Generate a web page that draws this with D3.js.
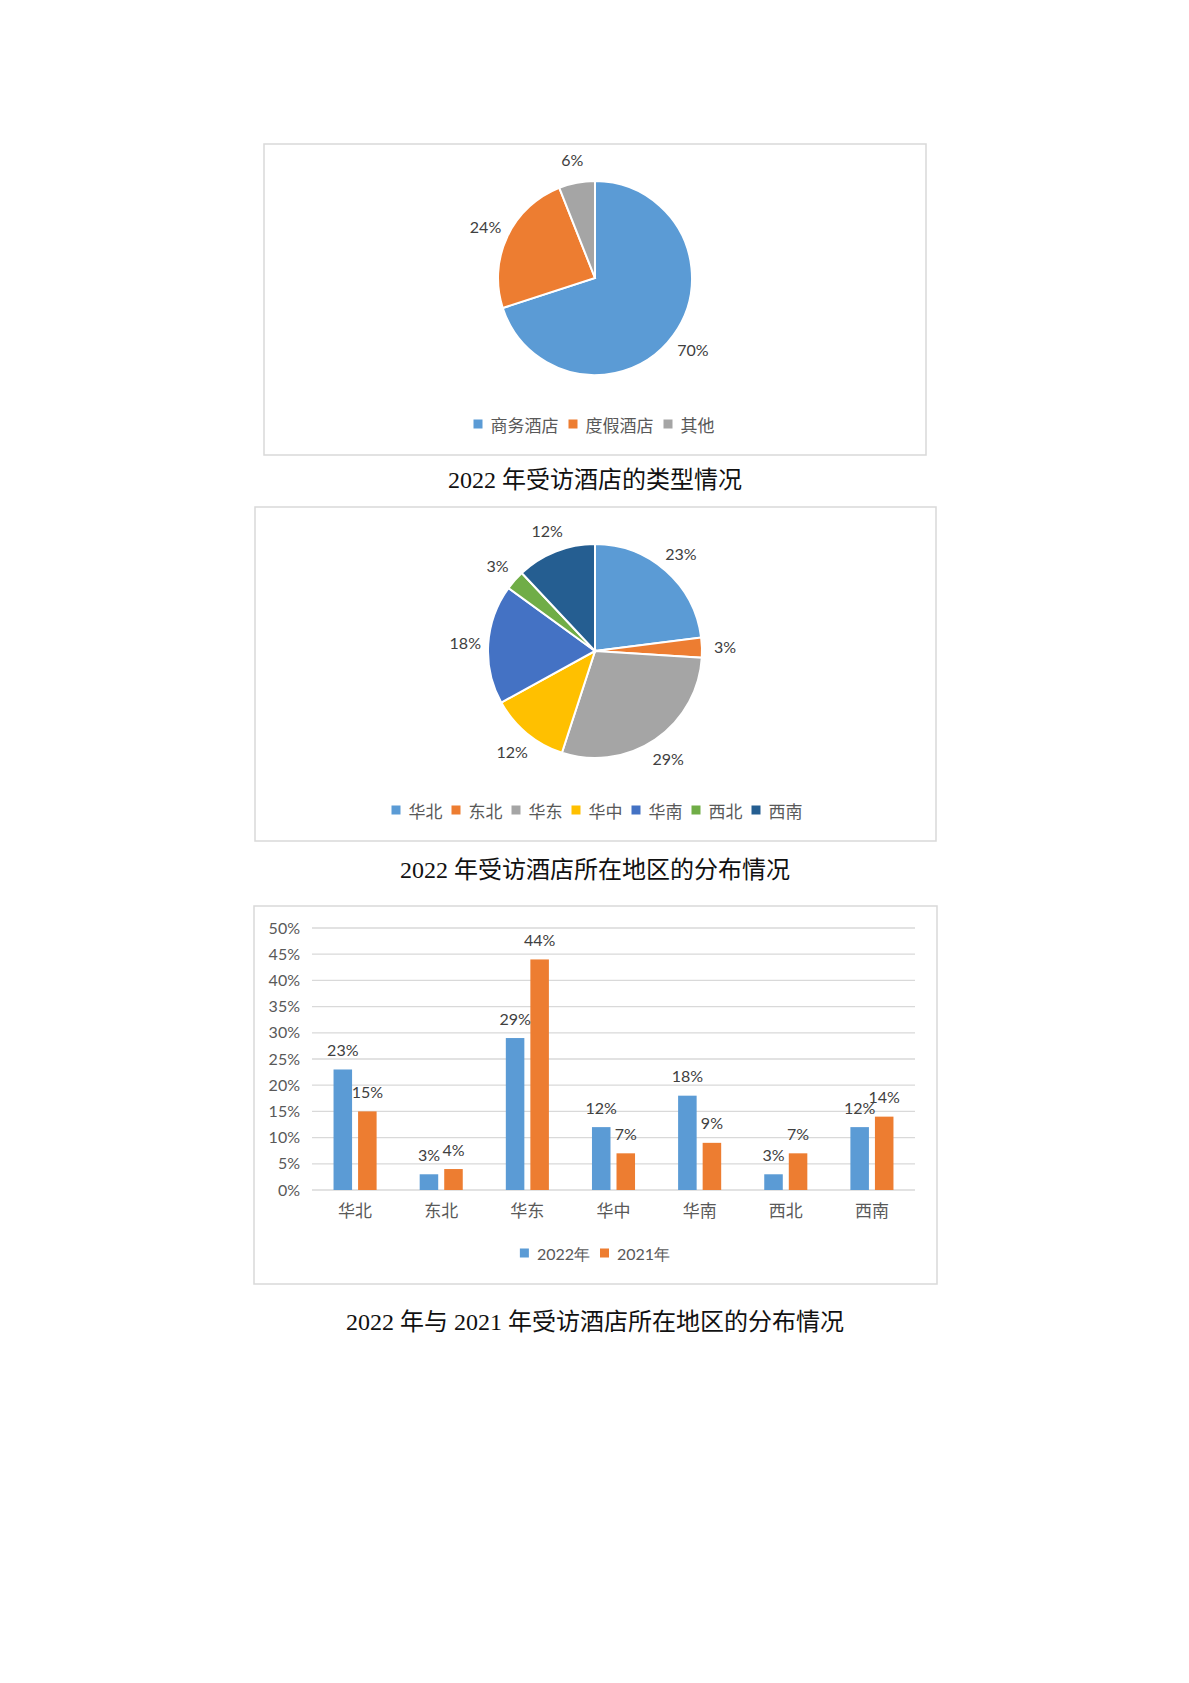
<!DOCTYPE html>
<html>
<head>
<meta charset="utf-8">
<script src="https://cdn.jsdelivr.net/npm/d3@7"></script>
<style>
  body { margin: 0; background: #fff; }
  svg { display: block; }
</style>
</head>
<body>
<div class="canvas"></div>
<script>
// ---- data ----
const hotelTypes = ["商务酒店", "度假酒店", "其他"];
const hotelTypeShare = [70, 24, 6];

const regions = ["华北", "东北", "华东", "华中", "华南", "西北", "西南"];
const regionShare2022 = [23, 3, 29, 12, 18, 3, 12];
const regionShare2021 = [15, 4, 44, 7, 9, 7, 14];
const years = ["2022年", "2021年"];
const yTicks = [0, 5, 10, 15, 20, 25, 30, 35, 40, 45, 50];

const titles = [
  "2022 年受访酒店的类型情况",
  "2022 年受访酒店所在地区的分布情况",
  "2022 年与 2021 年受访酒店所在地区的分布情况"
];

const typeColors = ["#5B9BD5", "#ED7D31", "#A5A5A5"];
const regionColors = ["#5B9BD5", "#ED7D31", "#A5A5A5", "#FFC000", "#4472C4", "#70AD47", "#255E91"];
const yearColors = ["#5B9BD5", "#ED7D31"];

const labelFont = "Lato, 'Noto Sans', sans-serif";
const cjkFont = "'Noto Sans CJK SC', sans-serif";
const titleFont = "'Liberation Serif', 'Noto Sans CJK SC', serif";

const svg = d3
  .select(".canvas")
  .append("svg")
  .attr("width", 1189)
  .attr("height", 1683);

svg.append("rect").attr("width", 1189).attr("height", 1683).attr("fill", "#fff");

// chart frame helper
const frame = (x, y, w, h) =>
  svg
    .append("rect")
    .attr("x", x)
    .attr("y", y)
    .attr("width", w)
    .attr("height", h)
    .attr("fill", "none")
    .attr("stroke", "#d9d9d9")
    .attr("stroke-width", 1.5);

const title = (text, cy) =>
  svg
    .append("text")
    .attr("x", 595)
    .attr("y", cy)
    .attr("text-anchor", "middle")
    .attr("dominant-baseline", "central")
    .attr("font-family", titleFont)
    .attr("font-size", 24)
    .attr("fill", "#111")
    .text(text);

// legend laid out left to right, centred on cx
const legend = (names, colors, cx, cy, font, size, gap) => {
  const g = svg.append("g");
  const items = g
    .selectAll("g")
    .data(names)
    .enter()
    .append("g");
  items
    .append("rect")
    .attr("width", 9)
    .attr("height", 9)
    .attr("y", -4.5)
    .attr("fill", (d, i) => colors[i]);
  items
    .append("text")
    .attr("x", 17)
    .attr("dominant-baseline", "central")
    .attr("font-family", font)
    .attr("font-size", size)
    .attr("fill", "#595959")
    .text((d) => d);
  let offset = 0;
  items.each(function () {
    d3.select(this).attr("transform", `translate(${offset},${cy})`);
    offset += 17 + this.querySelector("text").getComputedTextLength() + gap;
  });
  g.attr("transform", `translate(${cx - (offset - gap) / 2},0)`);
};

// pie helper
const drawPie = (values, colors, cx, cy, r, labelR) => {
  const pie = d3.pie().sort(null).value((d) => d);
  const arc = d3.arc().innerRadius(0).outerRadius(r);
  const labelArc = d3.arc().innerRadius(labelR).outerRadius(labelR);
  const g = svg.append("g").attr("transform", `translate(${cx},${cy})`);
  const arcs = pie(values);
  g.selectAll("path")
    .data(arcs)
    .enter()
    .append("path")
    .attr("d", arc)
    .attr("fill", (d, i) => colors[i])
    .attr("stroke", "#fff")
    .attr("stroke-width", 2);
  g.selectAll("text")
    .data(arcs)
    .enter()
    .append("text")
    .attr("transform", (d) => `translate(${labelArc.centroid(d)})`)
    .attr("text-anchor", "middle")
    .attr("dominant-baseline", "central")
    .attr("font-family", labelFont)
    .attr("font-size", 16)
    .attr("fill", "#404040")
    .text((d) => d.data + "%");
};

// ---- chart 1: hotel types ----
frame(264, 144, 662, 311);
drawPie(hotelTypeShare, typeColors, 595, 278, 97, 121);
legend(hotelTypes, typeColors, 594, 424, cjkFont, 17, 10);
title(titles[0], 480);

// ---- chart 2: regions pie ----
frame(255, 507, 681, 334);
drawPie(regionShare2022, regionColors, 595, 651, 107, 130);
legend(regions, regionColors, 597, 810, cjkFont, 17, 9);
title(titles[1], 870);

// ---- chart 3: bar comparison ----
frame(254, 906, 683, 378);

const x0 = d3.scaleBand().domain(regions).range([312, 915]).paddingInner(0.5).paddingOuter(0.25);
const x1 = d3.scaleBand().domain(years).range([0, x0.bandwidth()]).paddingInner(0.245);
const y = d3.scaleLinear().domain([0, 50]).range([1190, 928]);

// gridlines
svg
  .append("g")
  .selectAll("line")
  .data(yTicks)
  .enter()
  .append("line")
  .attr("x1", 312)
  .attr("x2", 915)
  .attr("y1", (d) => y(d))
  .attr("y2", (d) => y(d))
  .attr("stroke", "#d9d9d9")
  .attr("stroke-width", 1.3);

// y axis labels
const yAxis = d3
  .axisLeft(y)
  .tickValues(yTicks)
  .tickSize(0)
  .tickPadding(0)
  .tickFormat((d) => d + "%");
const yAxisGroup = svg.append("g").attr("transform", "translate(300,0)").call(yAxis);
yAxisGroup.select(".domain").remove();
yAxisGroup
  .selectAll("text")
  .attr("font-family", labelFont)
  .attr("font-size", 16)
  .attr("fill", "#595959");

// x axis labels
const xAxis = d3.axisBottom(x0).tickSize(0).tickPadding(15);
const xAxisGroup = svg.append("g").attr("transform", "translate(0,1190)").call(xAxis);
xAxisGroup.select(".domain").remove();
xAxisGroup
  .selectAll("text")
  .attr("font-family", cjkFont)
  .attr("font-size", 17)
  .attr("fill", "#595959");

// bars
const barData = regions.map((r, i) => ({
  region: r,
  values: [
    { year: years[0], value: regionShare2022[i] },
    { year: years[1], value: regionShare2021[i] }
  ]
}));

const groups = svg
  .append("g")
  .selectAll("g")
  .data(barData)
  .enter()
  .append("g")
  .attr("transform", (d) => `translate(${x0(d.region)},0)`);

groups
  .selectAll("rect")
  .data((d) => d.values)
  .enter()
  .append("rect")
  .attr("x", (d) => x1(d.year))
  .attr("y", (d) => y(d.value))
  .attr("width", x1.bandwidth())
  .attr("height", (d) => y(0) - y(d.value))
  .attr("fill", (d, i) => yearColors[i]);

groups
  .selectAll("text")
  .data((d) => d.values)
  .enter()
  .append("text")
  .attr("x", (d) => x1(d.year) + x1.bandwidth() / 2)
  .attr("y", (d) => y(d.value) - 20)
  .attr("text-anchor", "middle")
  .attr("dominant-baseline", "central")
  .attr("font-family", labelFont)
  .attr("font-size", 16)
  .attr("fill", "#404040")
  .text((d) => d.value + "%");

legend(years, yearColors, 595, 1253, labelFont, 16, 10);
title(titles[2], 1322);
</script>
</body>
</html>
